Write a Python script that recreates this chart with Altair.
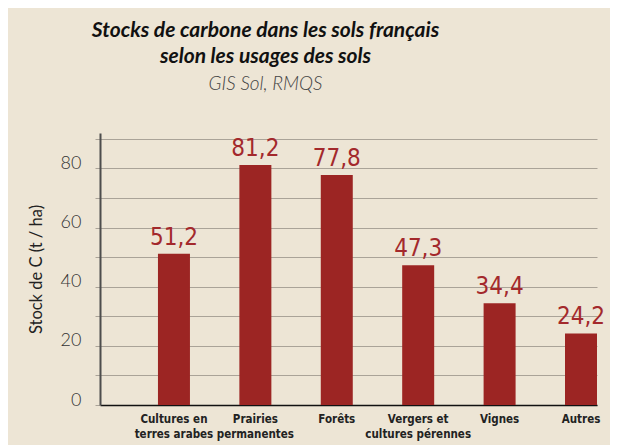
import altair as alt
import pandas as pd

categories = ["Cultures en\nterres arabes", "Prairies\npermanentes", "Forêts",
              "Vergers et\ncultures pérennes", "Vignes", "Autres"]
values = [51.2, 81.2, 77.8, 47.3, 34.4, 24.2]
value_labels = ["51,2", "81,2", "77,8", "47,3", "34,4", "24,2"]
y_ticks = [0, 10, 20, 30, 40, 50, 60, 70, 80, 90]

df = pd.DataFrame({"cat": categories, "val": values, "lab": value_labels})

NARROW = "DejaVu Sans Condensed, sans-serif"

x = alt.X("cat:N", sort=categories,
          scale=alt.Scale(paddingInner=0.607, paddingOuter=0.356, align=1),
          axis=alt.Axis(title=None, labelAngle=0,
                        labelExpr="split(datum.label, '\\n')",
                        ticks=False, domain=True, domainColor="#111111", domainWidth=1.5,
                        labelFont=NARROW, labelFontSize=11.5, labelFontWeight="bold",
                        labelColor="#222222", labelPadding=8, labelLineHeight=15))

y = alt.Y("val:Q", scale=alt.Scale(domain=[0, 92], nice=False),
          axis=alt.Axis(values=y_ticks, title="Stock de C (t / ha)", grid=True,
                        gridColor="#aaa398", gridWidth=1, tickColor="#aaa398", tickSize=5,
                        domainColor="#4d4d4d", domainWidth=2,
                        labelExpr="datum.value % 20 == 0 ? datum.label : ''",
                        labelFont="Lato", labelFontSize=18, labelFontWeight=300,
                        labelColor="#333333", labelPadding=14, labelOffset=-5,
                        titleFont="Lato", titleFontSize=16.5, titleFontWeight="normal",
                        titleColor="#222222", titlePadding=16))

bars = alt.Chart(df).mark_bar(color="#9c2523").encode(x=x, y=y)
labels = alt.Chart(df).mark_text(dy=-9, baseline="alphabetic", font=NARROW,
                                 fontSize=24, color="#a3292c").encode(x=x, y=y, text="lab:N")

chart = (bars + labels).properties(
    width=497, height=272,
    padding={"left": 92, "top": 125, "right": 13, "bottom": 40},
    autosize=alt.AutoSizeParams(type="none"),
    background="#ede5d5",
    title=alt.Title(["Stocks de carbone dans les sols français", "selon les usages des sols"],
                    subtitle="GIS Sol, RMQS", anchor="middle", dx=-83,
                    font="Lato", fontSize=21, fontStyle="italic", fontWeight="bold",
                    color="#111111", lineHeight=26,
                    subtitleFont="Lato", subtitleFontSize=19, subtitleFontStyle="italic",
                    subtitleFontWeight=300, subtitleColor="#444444", subtitlePadding=8,
                    offset=39)
).configure_view(stroke=None)

chart.save("out.html", embed_options={"renderer": "svg", "actions": False})
